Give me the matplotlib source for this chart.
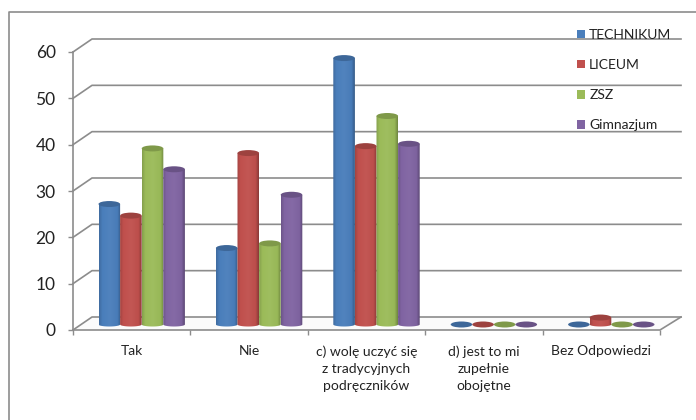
import numpy as np
import matplotlib.pyplot as plt
from matplotlib.colors import LinearSegmentedColormap, to_rgb
from matplotlib.lines import Line2D
from matplotlib.patches import Ellipse, Patch, PathPatch, Polygon
from matplotlib.path import Path

categories = ['Tak', 'Nie', 'c) wolę uczyć się\nz tradycyjnych\npodręczników',
              'd) jest to mi\nzupełnie\nobojętne', 'Bez Odpowiedzi']
series_names = ['TECHNIKUM', 'LICEUM', 'ZSZ', 'Gimnazjum']
technikum = [26, 16.5, 57.5, 0, 0]
liceum = [23.5, 37, 38.5, 0, 1.5]
zsz = [38, 17.5, 45, 0, 0]
gimnazjum = [33.5, 28, 39, 0, 0]
series_values = [technikum, liceum, zsz, gimnazjum]
colors = ['#4a7ebb', '#c0504d', '#9bbb59', '#8064a2']
y_ticks = [0, 10, 20, 30, 40, 50, 60]

W, H = 696, 420
GREY = '#8c8c8c'

plt.rcParams['font.family'] = ['Lato', 'DejaVu Sans']


def shade(color, k):
    rgb = np.array(to_rgb(color))
    if k < 1:
        return tuple(rgb * k)
    return tuple(rgb + (1 - rgb) * (k - 1))


def draw_cylinder(ax, x, value, width, cap, color):
    left, right = x - width / 2, x + width / 2
    if value > 0:
        # side of the cylinder: a horizontal gradient clipped to the body outline
        t = np.linspace(np.pi, 2 * np.pi, 24)
        verts = [(left, value)]
        verts += list(zip(x + width / 2 * np.cos(t), cap / 3 * np.sin(t)))
        verts += [(right, value), (left, value)]
        codes = [Path.MOVETO] + [Path.LINETO] * (len(verts) - 2) + [Path.CLOSEPOLY]
        body = PathPatch(Path(verts, codes), fc='none', ec='none', zorder=3)
        ax.add_patch(body)
        cmap = LinearSegmentedColormap.from_list('cyl', [
            (0.0, shade(color, 0.85)), (0.15, shade(color, 1.0)),
            (0.5, shade(color, 1.04)), (0.85, shade(color, 0.98)),
            (1.0, shade(color, 0.72))])
        im = ax.imshow(np.linspace(0, 1, 64).reshape(1, -1), cmap=cmap, aspect='auto',
                       extent=(left, right, -cap, value), zorder=3)
        im.set_clip_box(ax.figure.bbox)
        im.set_clip_path(body)
    ax.add_patch(Ellipse((x, value), width, cap, fc=shade(color, 0.82), ec='none',
                         zorder=4, clip_on=False))


def main():
    fig = plt.figure(figsize=(W / 100, H / 100), dpi=100)

    # outer chart border, open on the right and at the bottom
    fig.add_artist(Line2D([9 / W, 9 / W, 1], [0, 1 - 12 / H, 1 - 12 / H], color=GREY, lw=1.2))

    # axes span the front edge of the floor and the front of the left wall
    x0, x1, y0, y1 = 73, 660, 330, 52
    ax = fig.add_axes([x0 / W, 1 - y0 / H, (x1 - x0) / W, (y0 - y1) / H])
    ax.set_xlim(0, 5)
    ax.set_ylim(0, 60)
    ax.patch.set_visible(False)
    for spine in ['top', 'right', 'bottom']:
        ax.spines[spine].set_visible(False)
    ax.spines['left'].set_color(GREY)
    ax.spines['left'].set_linewidth(1.2)

    px_x = 5 / (x1 - x0)
    px_y = 60 / (y0 - y1)
    depth_x = 19 * px_x
    depth_y = 13 * px_y
    right_x = 5 + 21 * px_x

    # floor
    ax.add_patch(Polygon([(0, 0), (depth_x, depth_y), (right_x, depth_y), (5, 0)],
                         fc='#fbfbfb', ec='none', clip_on=False, zorder=0))
    ax.plot([0, 5, right_x], [0, 0, depth_y], color=GREY, lw=1.2, clip_on=False, zorder=1)

    # gridlines run along the back wall and fold down the left wall
    for v in y_ticks:
        ax.plot([0, depth_x, right_x], [v, v + depth_y, v + depth_y],
                color=GREY, lw=1.2, clip_on=False, zorder=1)

    ax.set_yticks(y_ticks)
    ax.set_xticks(np.arange(6))
    ax.set_xticks(np.arange(5) + 0.5, minor=True)
    ax.set_xticklabels([])
    ax.set_xticklabels(categories, minor=True, fontsize=10, color='#222222', linespacing=1.5)
    ax.tick_params(axis='x', which='major', length=3.5, width=1, color=GREY)
    ax.tick_params(axis='x', which='minor', length=0, pad=11)
    ax.tick_params(axis='y', length=3.5, width=1, color=GREY, labelsize=12.5,
                   labelcolor='#222222', pad=9)

    # cylinders stand in the middle of the floor depth, on their own shifted axes
    bars = fig.add_axes([(x0 + 10) / W, 1 - (y0 - 5.5) / H, (x1 - x0) / W, (y0 - y1) / H])
    bars.axis('off')
    bar_w = 21.6 * px_x
    cap = 6 * px_y
    for s, values in enumerate(series_values):
        for c, value in enumerate(values):
            x = c + 0.5 + (s - 1.5) * bar_w
            draw_cylinder(bars, x, value, bar_w, cap, colors[s])
    bars.set_xlim(0, 5)
    bars.set_ylim(0, 60)

    handles = [Patch(fc=c, ec='none') for c in colors]
    fig.legend(handles, series_names, loc='upper left', bbox_to_anchor=(577 / W, 1 - 29 / H),
               frameon=False, fontsize=10, labelcolor='#222222', handlelength=0.58, handleheight=0.58,
               handletextpad=0.3, labelspacing=1.3, borderpad=0, borderaxespad=0)

    fig.savefig('out.png', dpi=100)
    plt.close(fig)


if __name__ == '__main__':
    main()
